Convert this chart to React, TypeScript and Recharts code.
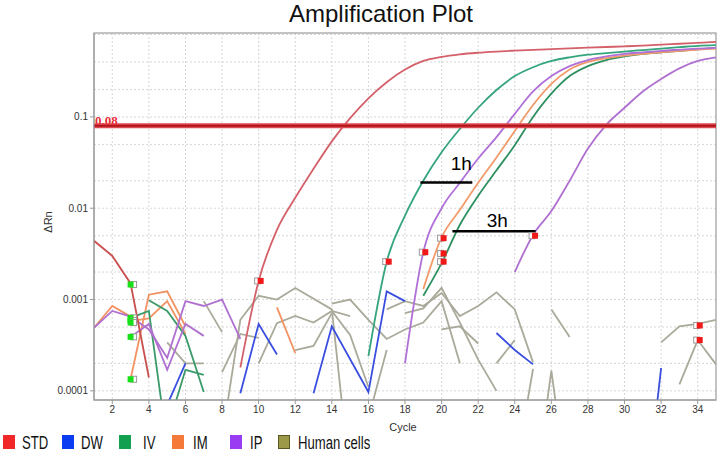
import React from 'react';
import {
  ComposedChart,
  Line,
  Scatter,
  XAxis,
  YAxis,
  CartesianGrid,
  ReferenceLine,
  ReferenceArea,
} from 'recharts';

type Pt = [number, number];

// Axis ticks
const xTicks = [2, 4, 6, 8, 10, 12, 14, 16, 18, 20, 22, 24, 26, 28, 30, 32, 34];
const yTicks = [0.0001, 0.001, 0.01, 0.1];
const yGrid = [
  0.00009, 0.0001, 0.0002, 0.0003, 0.0004, 0.0005, 0.0006, 0.0007, 0.0008, 0.0009,
  0.001, 0.002, 0.003, 0.004, 0.005, 0.006, 0.007, 0.008, 0.009,
  0.01, 0.02, 0.03, 0.04, 0.05, 0.06, 0.07, 0.08, 0.09,
  0.1, 0.2, 0.3, 0.4, 0.5, 0.6, 0.7, 0.8,
];
const threshold = 0.08;

// Amplification curves [cycle, ΔRn]
const stdCurve: Pt[] = [
  [9, 0.00018], [10, 0.0016], [11, 0.0058], [12, 0.013], [13, 0.027], [14, 0.054],
  [15, 0.097], [16, 0.16], [17, 0.24], [18, 0.33], [19, 0.41], [20, 0.455], [21, 0.485],
  [22, 0.505], [23, 0.52], [24, 0.532], [25, 0.543], [26, 0.553], [27, 0.563],
  [28, 0.573], [29, 0.583], [30, 0.593], [31, 0.604], [32, 0.618], [33, 0.633],
  [34, 0.648], [35, 0.665],
];
const ivCurve1: Pt[] = [
  [16, 0.00024], [17, 0.0026], [18, 0.0083], [19, 0.02], [20, 0.041], [21, 0.074],
  [22, 0.126], [23, 0.197], [24, 0.28], [25, 0.35], [26, 0.41], [27, 0.45], [28, 0.48],
  [29, 0.5], [30, 0.52], [31, 0.54], [32, 0.56], [33, 0.58], [34, 0.6], [35, 0.61],
];
const ipCurve1: Pt[] = [
  [18, 0.0002], [19, 0.0033], [20, 0.01], [21, 0.019], [22, 0.035], [23, 0.06],
  [24, 0.108], [25, 0.19], [26, 0.28], [27, 0.36], [28, 0.42], [29, 0.46], [30, 0.49],
  [31, 0.51], [32, 0.53], [33, 0.545], [34, 0.56], [35, 0.57],
];
const imCurve: Pt[] = [
  [19, 0.0013], [20, 0.0048], [21, 0.0096], [22, 0.019], [23, 0.036], [24, 0.07],
  [25, 0.135], [26, 0.23], [27, 0.33], [28, 0.4], [29, 0.44], [30, 0.47], [31, 0.49],
  [32, 0.51], [33, 0.53], [34, 0.545], [35, 0.56],
];
const ivCurve2: Pt[] = [
  [19, 0.0011], [20, 0.0025], [21, 0.0066], [22, 0.0137], [23, 0.026], [24, 0.049],
  [25, 0.1], [26, 0.18], [27, 0.28], [28, 0.36], [29, 0.42], [30, 0.46], [31, 0.49],
  [32, 0.51], [33, 0.53], [34, 0.55], [35, 0.57],
];
const ipCurve2: Pt[] = [
  [24, 0.002], [25, 0.0051], [26, 0.0093], [27, 0.02], [28, 0.045], [29, 0.082],
  [30, 0.126], [31, 0.19], [32, 0.26], [33, 0.34], [34, 0.41], [35, 0.45],
];

// Background noise
const stdNoise: Pt[][] = [[[1, 0.0044], [2, 0.003], [3, 0.0015], [4, 0.00014]]];
const ipNoise: Pt[][] = [
  [[1, 0.00049], [2, 0.00075], [3, 0.00065], [4, 0.00047], [5, 0.00023], [6, 0.00096], [7, 0.00085], [8, 0.001], [9, 0.00037]],
  [[3, 0.00039], [4, 0.00054], [5, 0.00017], [6, 0.00054], [7, 0.0004]],
];
const imNoise: Pt[][] = [
  [[1, 0.00049], [2, 0.00085], [3, 0.00065]],
  [[3, 0.000135], [4, 0.00113], [5, 0.00123], [6, 0.00051]],
  [[3, 0.00058], [4, 0.00062], [5, 0.00096], [6, 0.00042]],
  [[11, 0.00082], [12, 0.00026]],
];
const ivNoise: Pt[][] = [
  [[3, 0.00063], [4, 0.00075], [5, 0.000026]],
  [[4, 0.00098], [5, 0.00075], [6, 0.0004], [7, 0.000097]],
  [[5, 0.000037], [6, 0.00017], [7, 0.00015]],
];
const dwNoise: Pt[][] = [
  [[5, 0.00007], [6, 0.0002]],
  [[9, 0.000094], [10, 0.00054], [11, 0.00025]],
  [[13, 0.000094], [14, 0.00051], [16, 0.000097], [17, 0.00123], [18, 0.00096]],
  [[23, 0.00043], [24, 0.00028], [25, 0.000195]],
  [[31, 0.000003], [32, 0.000178]],
];
const hcNoise: Pt[][] = [
  [[5, 0.00034], [6, 0.0002], [7, 0.0002]],
  [[7, 0.00096], [8, 0.00044]],
  [[8, 0.00016], [9, 0.00042], [10, 0.00038]],
  [[8, 0.00003], [9, 0.0006], [10, 0.0011], [11, 0.001], [12, 0.00134], [14, 0.00078], [14.6, 0.00006]],
  [[10, 0.0002], [11, 0.00055], [12, 0.00066], [13, 0.00056], [14, 0.00075], [15, 0.00066]],
  [[12, 0.00028], [13, 0.00031], [14, 0.00071]],
  [[14, 0.00075], [15, 0.00041], [16, 0.00011]],
  [[14, 0.0009], [15, 0.001], [16, 0.0006], [17, 0.00037], [18, 0.00047], [19, 0.00056], [20, 0.00096], [21, 0.0002]],
  [[16, 0.00005], [17, 0.00028]],
  [[17, 0.00078], [18, 0.00096], [19, 0.00085], [20, 0.00118], [21, 0.00066], [22, 0.00085], [23, 0.0012], [24, 0.00078], [25, 0.000205]],
  [[18, 0.00071], [19, 0.0008], [20, 0.00134], [21, 0.00056], [22, 0.00022], [23, 0.0001]],
  [[20, 0.00047], [21, 0.00051], [22, 0.00033]],
  [[23, 0.0002], [24, 0.00036]],
  [[24.6, 0.00006], [25, 0.000174]],
  [[25.7, 0.00006], [26, 0.000167], [26.3, 0.00006]],
  [[26, 0.00078], [27, 0.00039]],
  [[32, 0.00034], [33, 0.00051], [34, 0.00054], [35, 0.0006]],
  [[33, 0.000118], [34, 0.00036], [35, 0.000195]],
];

// Ct markers
const redDots: Pt[] = [
  [10, 0.0016], [17, 0.0026], [19, 0.0033], [20, 0.0047], [20, 0.0032], [20, 0.0026],
  [25, 0.005], [34, 0.00052], [34, 0.00036],
];
const greenDots: Pt[] = [
  [3, 0.00146], [3, 0.00063], [3, 0.00059], [3, 0.00056], [3, 0.00039], [3, 0.000134],
];

// Delta-Ct annotations
const oneHour: Pt[] = [[18.84, 0.0191], [21.68, 0.0191]];
const threeHour: Pt[] = [[20.59, 0.0056], [25.14, 0.0056]];

const legendItems = [
  { name: 'STD', color: '#f0282a', sq: 3, tx: 22 },
  { name: 'DW', color: '#0a3cf2', sq: 62, tx: 81 },
  { name: 'IV', color: '#12a050', sq: 119, tx: 143 },
  { name: 'IM', color: '#f57a3a', sq: 172, tx: 193 },
  { name: 'IP', color: '#9a3cf2', sq: 230, tx: 250 },
  { name: 'Human cells', color: '#9c9a48', sq: 278, tx: 298 },
];

const toRows = (pts: Pt[]) => pts.map(([c, v]) => ({ cycle: c, v }));

const RedMark = (props: any) => {
  const { cx, cy } = props;
  return (
    <g>
      <rect x={cx - 4} y={cy - 3} width={6} height={6} fill="#fff" stroke="#9a9a9a" strokeWidth={1} />
      <rect x={cx - 1} y={cy - 3} width={6} height={6} fill="#f01818" />
    </g>
  );
};

const GreenMark = (props: any) => {
  const { cx, cy } = props;
  return (
    <g>
      <rect x={cx} y={cy - 3} width={6} height={6} fill="#fff" stroke="#9a9a9a" strokeWidth={1} />
      <rect x={cx - 3} y={cy - 3} width={6} height={6} fill="#18e018" />
    </g>
  );
};

const noiseLine = (pts: Pt[], color: string, key: string) => (
  <Line
    key={key}
    data={toRows(pts)}
    dataKey="v"
    type="linear"
    stroke={color}
    strokeWidth={1.8}
    dot={false}
    isAnimationActive={false}
  />
);

const curveLine = (pts: Pt[], color: string, key: string) => (
  <Line
    key={key}
    data={toRows(pts)}
    dataKey="v"
    type="monotone"
    stroke={color}
    strokeWidth={1.8}
    dot={false}
    isAnimationActive={false}
  />
);

const tickStyle = { fill: '#333', fontSize: 10, fontFamily: 'Liberation Sans, Arial, sans-serif' };

export default function App() {
  return (
    <div style={{ position: 'relative', width: 722, height: 453, background: '#fff', fontFamily: 'Liberation Sans, Arial, sans-serif' }}>
      <style>{'body{margin:0}'}</style>
      <div style={{ position: 'absolute', left: 0, width: 762, top: 0, lineHeight: '28px', fontSize: 24, color: '#111', textAlign: 'center' }}>
        Amplification Plot
      </div>
      <ComposedChart width={722} height={453} margin={{ top: 33, right: 6, bottom: 0, left: 0 }}>
        <CartesianGrid
          stroke="#d6d6d6"
          strokeDasharray="2 2"
          horizontalValues={yGrid}
          verticalValues={xTicks}
        />
        <XAxis
          dataKey="cycle"
          type="number"
          domain={[1, 35]}
          ticks={xTicks}
          allowDataOverflow
          height={53}
          tick={tickStyle}
          tickSize={4}
          stroke="#999"
          label={{ value: 'Cycle', position: 'insideBottom', offset: 22, dx: -2, fill: '#333', fontSize: 11 }}
        />
        <YAxis
          type="number"
          scale="log"
          domain={[0.0000794, 0.83]}
          ticks={yTicks}
          allowDataOverflow
          width={94}
          tick={tickStyle}
          tickSize={4}
          stroke="#999"
          tickFormatter={(v: number) => String(v)}
          label={{
            content: () => (
              <text x={48} y={222} transform="rotate(-90 48 222)" textAnchor="middle" dominantBaseline="central" fill="#333" fontSize={11}>
                ΔRn
              </text>
            ),
          }}
        />
        <ReferenceArea x1={1} x2={35} y1={0.0000794} y2={0.83} fill="none" stroke="#b0b0b0" strokeWidth={1.5} />

        {hcNoise.map((p, i) => noiseLine(p, '#aaa99a', `hc${i}`))}
        {dwNoise.map((p, i) => noiseLine(p, '#3a4fe0', `dw${i}`))}
        {imNoise.map((p, i) => noiseLine(p, '#f29262', `im${i}`))}
        {ivNoise.map((p, i) => noiseLine(p, '#3a9a6a', `iv${i}`))}
        {ipNoise.map((p, i) => noiseLine(p, '#b070d0', `ip${i}`))}
        {stdNoise.map((p, i) => noiseLine(p, '#c8504f', `std${i}`))}

        {curveLine(ipCurve2, '#b070d0', 'ipc2')}
        {curveLine(ivCurve2, '#2e9060', 'ivc2')}
        {curveLine(imCurve, '#f29a6a', 'imc')}
        {curveLine(ipCurve1, '#b070d8', 'ipc1')}
        {curveLine(ivCurve1, '#34a57c', 'ivc1')}
        {curveLine(stdCurve, '#d4606a', 'stdc')}

        <ReferenceLine y={threshold} stroke="#de4a50" strokeWidth={5} />
        <ReferenceLine
          y={threshold}
          stroke="#b0141c"
          strokeWidth={2}
          label={{
            content: (p: any) => (
              <text x={p.viewBox.x + 1} y={p.viewBox.y - 1} fill="#e8303a" fontSize={13} fontWeight="bold" fontFamily="Liberation Serif, serif">
                {String(threshold)}
              </text>
            ),
          }}
        />

        <ReferenceLine
          segment={oneHour.map(([x, y]) => ({ x, y }))}
          stroke="#000"
          strokeWidth={2.5}
          label={{
            content: (p: any) => (
              <text x={p.viewBox.x + 41} y={p.viewBox.y - 13} textAnchor="middle" fill="#000" fontSize={19}>
                1h
              </text>
            ),
          }}
        />
        <ReferenceLine
          segment={threeHour.map(([x, y]) => ({ x, y }))}
          stroke="#000"
          strokeWidth={2.5}
          label={{
            content: (p: any) => (
              <text x={p.viewBox.x + 45} y={p.viewBox.y - 4} textAnchor="middle" fill="#000" fontSize={19}>
                3h
              </text>
            ),
          }}
        />

        <Scatter data={toRows(greenDots)} dataKey="v" shape={GreenMark} isAnimationActive={false} />
        <Scatter data={toRows(redDots)} dataKey="v" shape={RedMark} isAnimationActive={false} />
      </ComposedChart>

      {legendItems.map((it) => (
        <React.Fragment key={it.name}>
          <div
            style={{
              position: 'absolute',
              left: it.sq,
              top: 435,
              width: 12,
              height: 14,
              background: it.color,
              boxSizing: 'border-box',
              border: it.name === 'Human cells' ? '1px solid #5a5820' : 'none',
            }}
          />
          <div
            style={{
              position: 'absolute',
              left: it.tx,
              top: 434,
              fontSize: 17.5,
              lineHeight: '18px',
              color: '#111',
              whiteSpace: 'nowrap',
              transform: 'scaleX(0.75)',
              transformOrigin: 'left center',
            }}
          >
            {it.name}
          </div>
        </React.Fragment>
      ))}
    </div>
  );
}
